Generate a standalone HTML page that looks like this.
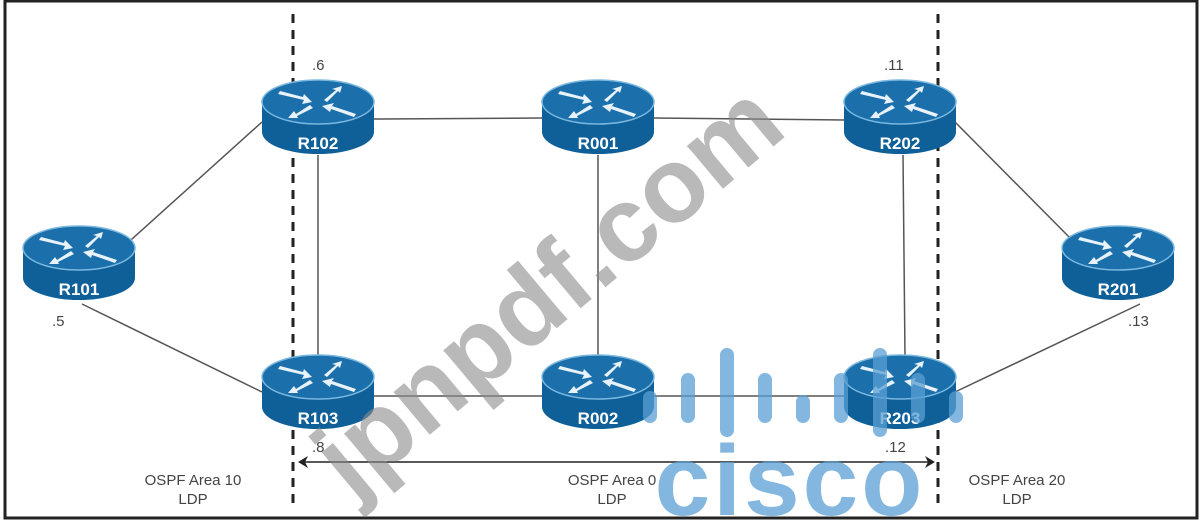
<!DOCTYPE html>
<html><head><meta charset="utf-8"><style>
html,body{margin:0;padding:0;background:#fff;}
svg{display:block;font-family:"Liberation Sans",Arial,sans-serif;}
</style></head><body>
<svg width="1200" height="520" viewBox="0 0 1200 520" xmlns="http://www.w3.org/2000/svg">
<defs>
<g id="rt">
  <path d="M-56,22 V52 A56,22 0 0 0 56,52 V22 Z" fill="#0f5f98"/>
  <ellipse cx="0" cy="22" rx="56" ry="22" fill="#1b6fab" stroke="#7ab8e0" stroke-width="1.5"/>
  <g fill="#e8f2fa">
    <path d="M-40,14 L-14,20 L-16,24 L-6,22 L-14,14 L-15,17 L-38,11 Z"/>
    <path d="M6,20 L18,10 L14,9 L24,6 L22,13 L20,11 L9,22 Z"/>
    <path d="M38,34 L14,26 L16,23 L4,26 L12,32 L13,29 L36,37 Z"/>
    <path d="M-8,25 L-22,34 L-24,31 L-30,38 L-20,38 L-21,36 L-5,28 Z"/>
  </g>
</g>
</defs>
<rect x="0" y="0" width="1200" height="520" fill="#fff"/>
<rect x="5" y="1" width="1192" height="517" fill="none" stroke="#222" stroke-width="3"/>
<g stroke="#555" stroke-width="1.5" fill="none">
  <line x1="374" y1="119" x2="542" y2="118"/>
  <line x1="654" y1="118" x2="845" y2="120"/>
  <line x1="318" y1="155" x2="318" y2="356"/>
  <line x1="598" y1="155" x2="598" y2="356"/>
  <line x1="903" y1="155" x2="905" y2="356"/>
  <line x1="122" y1="248" x2="262" y2="122"/>
  <line x1="82" y1="304" x2="262" y2="392"/>
  <line x1="955" y1="122" x2="1078" y2="246"/>
  <line x1="1140" y1="304" x2="955" y2="392"/>
  <line x1="374" y1="396" x2="542" y2="396"/>
  <line x1="654" y1="396" x2="845" y2="396"/>
</g>
<g stroke="#222" stroke-width="3" stroke-dasharray="9,7">
  <line x1="293" y1="14" x2="293" y2="505"/>
  <line x1="938" y1="14" x2="938" y2="505"/>
</g>
<line x1="302" y1="462" x2="930" y2="462" stroke="#222" stroke-width="1.5"/>
<path d="M298,462 L308,456 L305,462 L308,468 Z" fill="#222"/>
<path d="M935,462 L925,456 L928,462 L925,468 Z" fill="#222"/>
<use href="#rt" x="318" y="80"/>
<use href="#rt" x="598" y="80"/>
<use href="#rt" x="900" y="80"/>
<use href="#rt" x="79" y="226"/>
<use href="#rt" x="1118" y="226"/>
<use href="#rt" x="318" y="355"/>
<use href="#rt" x="598" y="355"/>
<use href="#rt" x="900" y="355"/>
<g fill="#fff" font-weight="bold" font-size="17" text-anchor="middle">
  <text x="318" y="149">R102</text>
  <text x="598" y="149">R001</text>
  <text x="900" y="149">R202</text>
  <text x="79" y="295">R101</text>
  <text x="1118" y="295">R201</text>
  <text x="318" y="424">R103</text>
  <text x="598" y="424">R002</text>
  <text x="900" y="424">R203</text>
</g>
<g fill="#444" font-size="15">
  <text x="312" y="70">.6</text>
  <text x="884" y="70">.11</text>
  <text x="52" y="326">.5</text>
  <text x="1128" y="326">.13</text>
  <text x="312" y="452">.8</text>
  <text x="885" y="452">.12</text>
</g>
<g fill="#444" font-size="15" text-anchor="middle">
  <text x="193" y="485">OSPF Area 10</text>
  <text x="193" y="504">LDP</text>
  <text x="612" y="485">OSPF Area 0</text>
  <text x="612" y="504">LDP</text>
  <text x="1017" y="485">OSPF Area 20</text>
  <text x="1017" y="504">LDP</text>
</g>
<text x="0" y="0" transform="translate(352,500) rotate(-40)" font-size="106" font-weight="bold" fill="#8a8a8a" fill-opacity="0.6">jpnpdf.com</text>
<g stroke="#5a9fd4" stroke-opacity="0.75" stroke-width="14" stroke-linecap="round">
  <line x1="650" y1="398" x2="650" y2="416"/>
  <line x1="688" y1="380" x2="688" y2="416"/>
  <line x1="727" y1="355" x2="727" y2="430"/>
  <line x1="765" y1="380" x2="765" y2="416"/>
  <line x1="803" y1="402" x2="803" y2="416"/>
  <line x1="841" y1="380" x2="841" y2="416"/>
  <line x1="880" y1="355" x2="880" y2="430"/>
  <line x1="918" y1="380" x2="918" y2="416"/>
  <line x1="956" y1="398" x2="956" y2="416"/>
</g>
<text x="790" y="515" text-anchor="middle" font-size="100" font-weight="bold" fill="#5a9fd4" fill-opacity="0.75" letter-spacing="3">cisco</text>
</svg>
</body></html>
